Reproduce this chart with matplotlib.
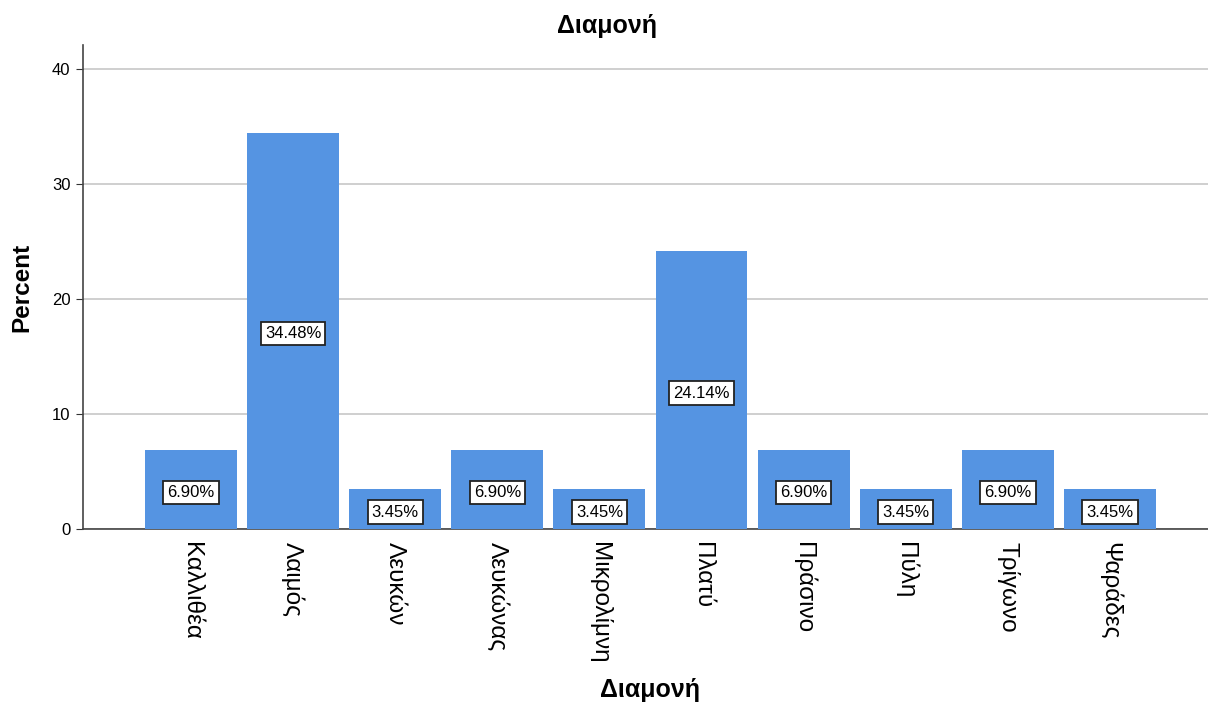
import matplotlib.pyplot as plt
import numpy as np

plt.rcParams['font.family'] = ['Liberation Sans', 'DejaVu Sans']

# Data
categories = ['Καλλιθέα', 'Λαιμός', 'Λευκών', 'Λευκώνας', 'Μικρολίμνη',
              'Πλατύ', 'Πράσινο', 'Πύλη', 'Τρίγωνο', 'Ψαράδες']
percents = [6.90, 34.48, 3.45, 6.90, 3.45, 24.14, 6.90, 3.45, 6.90, 3.45]
y_ticks = [0, 10, 20, 30, 40]

fig = plt.figure(figsize=(12.08, 7.06), dpi=100)
ax = fig.add_axes([0.0687, 0.2507, 0.9313, 0.6856])

x = np.arange(len(categories))
bar_color = '#5594E2'
ax.bar(x, percents, width=0.9, color=bar_color, zorder=3)

for xi, p in zip(x, percents):
    ax.text(xi, p / 2 - 0.25, f'{p:.2f}%', ha='center', va='center', fontsize=12,
            zorder=4,
            bbox=dict(boxstyle='square,pad=0.25', facecolor='white',
                      edgecolor='#222222', linewidth=1.3))

ax.set_xlim(-1.058, 9.96)
ax.set_ylim(0, 42.1)
ax.set_yticks(y_ticks)
ax.yaxis.grid(True, color='#cccccc', linewidth=1.3, zorder=0)
ax.set_axisbelow(True)

ax.set_xticks(x)
ax.set_xticklabels(categories, rotation=-90, fontsize=17.5, va='top', ha='center')
ax.tick_params(axis='x', length=0, pad=9)
ax.tick_params(axis='y', length=5, labelsize=12, color='#333333', pad=4)

for side in ['top', 'right']:
    ax.spines[side].set_visible(False)
for side in ['left', 'bottom']:
    ax.spines[side].set_color('#444444')
    ax.spines[side].set_linewidth(1.2)

fig.text(22 / 1208, 1 - 287 / 706, 'Percent', rotation=90, ha='center', va='center',
         fontsize=17.5, fontweight='bold')
fig.text(650 / 1208, 1 - 690 / 706, 'Διαμονή', ha='center', va='center',
         fontsize=18, fontweight='bold')
fig.text(607 / 1208, 1 - 26 / 706, 'Διαμονή', ha='center', va='center',
         fontsize=18, fontweight='bold')

plt.savefig('out.png', dpi=100, facecolor='white')
plt.close()
